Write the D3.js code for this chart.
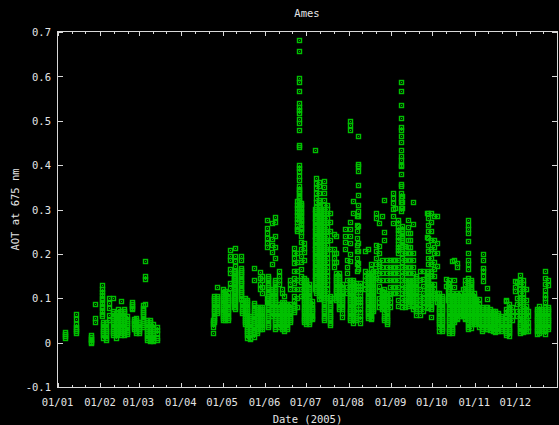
<!DOCTYPE html>
<html>
<head>
<meta charset="utf-8">
<script src="https://cdn.jsdelivr.net/npm/d3@7"></script>
<style>
  html, body { margin: 0; padding: 0; background: #000; }
  svg { display: block; }
</style>
</head>
<body>
<svg id="chart" width="559" height="425"></svg>
<script>
// Labels
const chartTitle = "Ames";
const xTitle = "Date (2005)";
const yTitle = "AOT at 675 nm";

// Axis ticks
const monthTickDates = ["01-01","02-01","03-01","04-01","05-01","06-01","07-01","08-01","09-01","10-01","11-01","12-01"];
const monthTickLabels = ["01/01","01/02","01/03","01/04","01/05","01/06","01/07","01/08","01/09","01/10","01/11","01/12"];
const minorTickDays = [11, 21];
const yTickValues = [-0.1, 0, 0.1, 0.2, 0.3, 0.4, 0.5, 0.6, 0.7];

// Observation days (MM-DD, 2005) and the AOT values measured on each day
const obsDays = [
  "01-06","01-14","01-25","01-28","02-02","02-03","02-05","02-07","02-10","02-12",
  "02-14","02-16","02-18","02-20","02-24","02-25","02-27","03-01","03-04","03-05",
  "03-07","03-09","03-11","03-14",
  "04-24","04-25","04-27","05-01","05-03","05-05","05-06","05-09","05-10","05-14",
  "05-15","05-17","05-19","05-21","05-24","05-26","05-28","05-30","06-02","06-03",
  "06-06","06-08","06-11","06-13","06-15","06-17","06-19","06-22","06-24","06-26",
  "06-27","06-29","07-01","07-03","07-05","07-07","07-08","07-10","07-12","07-14",
  "07-16","07-18","07-21","07-23","07-25","07-27","07-29","07-31","08-02","08-04",
  "08-06","08-07","08-08","08-09","08-13","08-15","08-17","08-19","08-21","08-23",
  "08-25","08-27","08-29","08-31","09-02","09-04","09-06","09-08","09-09","09-11",
  "09-13","09-15","09-17","09-19","09-22","09-24","09-27","09-28","09-30","10-02",
  "10-04","10-06","10-08","10-11","10-12","10-13","10-15","10-17","10-19","10-21",
  "10-23","10-25","10-27","10-29","10-31","11-02","11-04","11-06","11-07","11-09",
  "11-10","11-12","11-14","11-16","11-18","11-20","11-24","11-26","11-28","11-30",
  "12-02","12-04","12-06","12-08","12-10","12-16","12-18","12-20","12-22","12-24"
];

const obsAOT = [
  // January - March
  [0.022, 0.018, 0.014, 0.010],
  [0.063, 0.053, 0.040, 0.035, 0.030, 0.025, 0.020],
  [0.016, 0.012, 0.008, 0.004, 0.000, -0.003],
  [0.087, 0.055, 0.045],
  [0.128, 0.120, 0.112, 0.106, 0.100, 0.094, 0.088, 0.082, 0.076, 0.070, 0.064, 0.058],
  [0.045, 0.040, 0.035, 0.030, 0.025, 0.020, 0.015, 0.010],
  [0.045, 0.040, 0.035, 0.030, 0.025, 0.020, 0.015, 0.010, 0.005],
  [0.100, 0.089, 0.077, 0.062, 0.050],
  [0.100, 0.070, 0.065, 0.060, 0.055, 0.050, 0.045, 0.040, 0.035, 0.030, 0.025, 0.020, 0.015],
  [0.065, 0.060, 0.055, 0.050, 0.045, 0.040, 0.035, 0.030, 0.025, 0.020, 0.015, 0.010],
  [0.075, 0.068, 0.062, 0.056, 0.050, 0.045, 0.040, 0.035, 0.030, 0.025, 0.020],
  [0.092, 0.070, 0.065, 0.060, 0.055, 0.050, 0.045, 0.040, 0.035, 0.030, 0.025, 0.020, 0.015],
  [0.075, 0.070, 0.065, 0.060, 0.055, 0.050, 0.045, 0.040, 0.035, 0.030, 0.025, 0.020, 0.015],
  [0.058, 0.053, 0.048, 0.043, 0.038, 0.033, 0.028, 0.023, 0.018],
  [0.090, 0.086, 0.082, 0.078, 0.074],
  [0.053, 0.048, 0.044, 0.040, 0.035, 0.030],
  [0.055, 0.050, 0.045, 0.040, 0.035, 0.030, 0.025, 0.020],
  [0.045, 0.040, 0.035, 0.030, 0.025, 0.020],
  [0.083, 0.078, 0.073, 0.068, 0.063, 0.058, 0.053, 0.048, 0.043, 0.038, 0.033],
  [0.183, 0.148, 0.142, 0.087],
  [0.050, 0.045, 0.040, 0.035, 0.030, 0.025, 0.020, 0.015, 0.010, 0.005],
  [0.050, 0.045, 0.040, 0.035, 0.030, 0.025, 0.020, 0.015, 0.010, 0.005, 0.002],
  [0.040, 0.035, 0.030, 0.025, 0.020, 0.015, 0.010, 0.005, 0.002],
  [0.034, 0.027, 0.020, 0.010, 0.004],
  // late April - May
  [0.050, 0.045, 0.040, 0.035, 0.021],
  [0.105, 0.100, 0.095, 0.090, 0.085, 0.080, 0.075, 0.070, 0.065, 0.060, 0.055, 0.050, 0.045],
  [0.125, 0.105, 0.100, 0.095, 0.090, 0.085, 0.080, 0.075, 0.070, 0.065],
  [0.119, 0.114, 0.109, 0.104, 0.099, 0.094, 0.089, 0.084, 0.079, 0.074, 0.069, 0.064, 0.059, 0.054, 0.049],
  [0.115, 0.110, 0.105, 0.100, 0.095, 0.090, 0.085, 0.080, 0.075, 0.070, 0.065, 0.060, 0.055, 0.050],
  [0.110, 0.105, 0.100, 0.095, 0.090, 0.085, 0.080, 0.075, 0.070, 0.065, 0.060, 0.055, 0.050],
  [0.207, 0.195, 0.184, 0.165, 0.155, 0.134, 0.122],
  [0.160, 0.155, 0.150, 0.145, 0.140, 0.135, 0.130, 0.125, 0.120, 0.115, 0.110, 0.105, 0.100, 0.095, 0.090, 0.085, 0.080],
  [0.213, 0.195, 0.182, 0.171, 0.160, 0.155, 0.150, 0.145, 0.140, 0.135, 0.130, 0.125, 0.120, 0.115, 0.110, 0.105, 0.100, 0.095, 0.090, 0.085, 0.080, 0.074],
  [0.195, 0.184, 0.168, 0.163, 0.158, 0.153, 0.148, 0.143, 0.138, 0.133, 0.128, 0.123, 0.118, 0.113, 0.108, 0.103, 0.098],
  [0.090, 0.085, 0.080, 0.075, 0.070, 0.065],
  [0.100, 0.095, 0.090, 0.085, 0.080, 0.075, 0.070, 0.065, 0.060, 0.055, 0.050, 0.045, 0.040],
  [0.095, 0.090, 0.085, 0.080, 0.075, 0.070, 0.065, 0.060, 0.055, 0.050, 0.045, 0.040, 0.035, 0.030, 0.025, 0.020, 0.015, 0.010],
  [0.060, 0.055, 0.050, 0.045, 0.040, 0.035, 0.030, 0.025, 0.020, 0.015, 0.010, 0.006],
  [0.168, 0.141, 0.088, 0.083, 0.078, 0.073, 0.068, 0.063, 0.058, 0.053, 0.048, 0.043, 0.038, 0.033, 0.028, 0.023, 0.018, 0.012],
  [0.080, 0.075, 0.070, 0.065, 0.060, 0.055, 0.050, 0.045, 0.040, 0.035, 0.030, 0.025, 0.020],
  [0.157, 0.145, 0.130, 0.120, 0.080, 0.075, 0.070, 0.065, 0.060, 0.055, 0.050, 0.045, 0.040, 0.035, 0.030],
  [0.150, 0.140, 0.125, 0.110, 0.080, 0.075, 0.070, 0.065, 0.060, 0.055, 0.050, 0.045, 0.040, 0.035, 0.030],
  [0.275, 0.258, 0.246, 0.235, 0.224, 0.215, 0.100, 0.090],
  [0.149, 0.144, 0.139, 0.134, 0.129, 0.124, 0.119, 0.114, 0.109, 0.104, 0.099, 0.094, 0.089, 0.084, 0.079, 0.074, 0.069, 0.064, 0.059, 0.054, 0.049, 0.044, 0.039, 0.034],
  // June
  [0.269, 0.233, 0.219, 0.204, 0.175, 0.120, 0.115, 0.110, 0.105, 0.100, 0.095, 0.090, 0.085, 0.080, 0.075, 0.070, 0.065, 0.060],
  [0.282, 0.270, 0.240, 0.215, 0.190, 0.140, 0.135, 0.130, 0.125, 0.120, 0.115, 0.110, 0.105, 0.100, 0.095, 0.090, 0.085, 0.080, 0.075, 0.070, 0.065, 0.060, 0.055, 0.050, 0.045, 0.040, 0.035, 0.030],
  [0.160, 0.150, 0.140, 0.130, 0.085, 0.080, 0.075, 0.070, 0.065, 0.060, 0.055, 0.050, 0.045, 0.040, 0.035],
  [0.120, 0.110, 0.090, 0.085, 0.080, 0.075, 0.070, 0.065, 0.060, 0.055, 0.050, 0.045, 0.040, 0.035, 0.030],
  [0.105, 0.090, 0.085, 0.080, 0.075, 0.070, 0.065, 0.060, 0.055, 0.050, 0.045, 0.040, 0.035, 0.030, 0.025],
  [0.085, 0.080, 0.075, 0.070, 0.065, 0.060, 0.055, 0.050, 0.045, 0.040, 0.035, 0.030],
  [0.140, 0.130, 0.120, 0.085, 0.080, 0.075, 0.070, 0.065, 0.060, 0.055, 0.050, 0.045],
  [0.211, 0.201, 0.190, 0.179, 0.161, 0.145, 0.134, 0.120, 0.104, 0.092, 0.087, 0.082, 0.077, 0.072, 0.067],
  [0.318, 0.310, 0.302, 0.294, 0.286, 0.278, 0.270, 0.262, 0.255, 0.250, 0.200, 0.180, 0.160, 0.140, 0.120, 0.100, 0.080],
  [0.680, 0.655, 0.595, 0.586, 0.565, 0.538, 0.530, 0.524, 0.517, 0.502, 0.494, 0.479, 0.445, 0.440, 0.400, 0.393, 0.385, 0.375, 0.366, 0.351, 0.345, 0.340, 0.335, 0.330, 0.325, 0.320, 0.315, 0.310, 0.305, 0.300, 0.295, 0.290, 0.285, 0.280],
  [0.314, 0.308, 0.302, 0.296, 0.290, 0.284, 0.278, 0.272, 0.266, 0.260, 0.254, 0.248, 0.240, 0.225, 0.210, 0.195, 0.180, 0.165, 0.150, 0.135, 0.120, 0.105],
  [0.224, 0.213, 0.203, 0.185, 0.145, 0.140, 0.135, 0.130, 0.125, 0.120, 0.115, 0.110, 0.105, 0.100, 0.095, 0.090, 0.085, 0.080, 0.075, 0.070, 0.065, 0.060, 0.055, 0.050, 0.045],
  // July
  [0.140, 0.135, 0.130, 0.125, 0.120, 0.115, 0.110, 0.105, 0.100, 0.095, 0.090, 0.085, 0.080, 0.075, 0.070, 0.065, 0.060, 0.055, 0.050, 0.045, 0.040],
  [0.130, 0.125, 0.120, 0.115, 0.110, 0.105, 0.100, 0.095, 0.090, 0.085, 0.080, 0.075, 0.070, 0.065, 0.060, 0.055, 0.050, 0.045, 0.040],
  [0.092, 0.085, 0.080, 0.075, 0.070, 0.065, 0.060, 0.055, 0.051],
  [0.434, 0.300, 0.290, 0.280, 0.270, 0.260, 0.250, 0.240, 0.230, 0.220, 0.210, 0.200, 0.190, 0.180, 0.170, 0.160, 0.150, 0.140, 0.130, 0.120],
  [0.370, 0.359, 0.348, 0.336, 0.325, 0.315, 0.305, 0.295, 0.285, 0.275, 0.265, 0.255, 0.245, 0.235, 0.225, 0.215, 0.205, 0.195, 0.185, 0.175, 0.165, 0.155, 0.145, 0.135, 0.125, 0.115, 0.110],
  [0.360, 0.351, 0.337, 0.321, 0.315, 0.310, 0.305, 0.300, 0.295, 0.290, 0.285, 0.280, 0.275, 0.270, 0.265, 0.260, 0.255, 0.250, 0.245, 0.240, 0.235, 0.230, 0.225, 0.220, 0.215, 0.210, 0.205, 0.200, 0.195, 0.190, 0.185, 0.180, 0.175, 0.170, 0.165, 0.160, 0.155, 0.150, 0.145, 0.140, 0.135, 0.130, 0.125, 0.120, 0.115, 0.110, 0.105, 0.098],
  [0.300, 0.295, 0.290, 0.285, 0.280, 0.275, 0.270, 0.265, 0.260, 0.255, 0.250, 0.245, 0.240, 0.235, 0.230, 0.225, 0.220, 0.215, 0.210, 0.205, 0.200, 0.195, 0.190, 0.185, 0.180, 0.175, 0.170, 0.165, 0.160, 0.155, 0.150, 0.145, 0.140, 0.135, 0.130, 0.125, 0.120, 0.115, 0.110, 0.105, 0.100],
  [0.363, 0.350, 0.335, 0.320, 0.310, 0.300, 0.290, 0.280, 0.270, 0.260, 0.250, 0.240, 0.230, 0.220, 0.210, 0.200, 0.190, 0.180, 0.170, 0.160, 0.150, 0.140, 0.130, 0.120, 0.110, 0.100, 0.095, 0.090, 0.085, 0.080, 0.075, 0.070, 0.065, 0.060, 0.055, 0.050],
  [0.310, 0.300, 0.290, 0.280, 0.270, 0.260, 0.250, 0.240, 0.230, 0.220, 0.210, 0.200, 0.190, 0.180, 0.170, 0.160, 0.150, 0.140, 0.130, 0.120, 0.110, 0.100],
  [0.291, 0.270, 0.250, 0.230, 0.210, 0.104, 0.099, 0.094, 0.089, 0.084, 0.079, 0.074, 0.069, 0.064, 0.059, 0.054, 0.049, 0.044, 0.038],
  [0.243, 0.209, 0.200, 0.190, 0.180, 0.170, 0.100],
  [0.239, 0.200, 0.180, 0.156, 0.150, 0.145, 0.140, 0.135, 0.130, 0.125, 0.120, 0.115, 0.110, 0.105, 0.100, 0.095],
  [0.156, 0.150, 0.145, 0.140, 0.135, 0.130, 0.125, 0.120, 0.115, 0.110, 0.105, 0.100, 0.095, 0.090, 0.085, 0.080, 0.075],
  [0.130, 0.125, 0.120, 0.115, 0.110, 0.105, 0.100, 0.095, 0.090, 0.085, 0.080, 0.074, 0.065, 0.057],
  [0.254, 0.240, 0.225, 0.210],
  [0.186, 0.170, 0.155, 0.140, 0.125, 0.111],
  // August
  [0.498, 0.490, 0.479, 0.270, 0.254, 0.240, 0.224, 0.198, 0.182, 0.141, 0.135, 0.130, 0.125, 0.120, 0.115, 0.110, 0.105, 0.100, 0.095, 0.090, 0.085, 0.080, 0.075, 0.070, 0.065, 0.060, 0.055, 0.050],
  [0.318, 0.291, 0.140, 0.135, 0.130, 0.125, 0.120, 0.115, 0.110, 0.105, 0.100, 0.095, 0.090, 0.085, 0.080, 0.075, 0.070, 0.065, 0.060, 0.055, 0.050, 0.044],
  [0.134, 0.127, 0.120, 0.113, 0.105, 0.098, 0.090, 0.083, 0.075, 0.068, 0.060, 0.055, 0.050],
  [0.284, 0.265, 0.250, 0.235, 0.220, 0.205, 0.190, 0.175, 0.160],
  [0.465, 0.402, 0.396, 0.385, 0.355, 0.331, 0.310, 0.295, 0.284, 0.261, 0.224, 0.205, 0.179, 0.164],
  [0.134, 0.127, 0.120, 0.113, 0.105, 0.098, 0.090, 0.083, 0.075, 0.068, 0.060, 0.052, 0.044],
  [0.205, 0.160, 0.150, 0.140, 0.130, 0.120],
  [0.209, 0.156, 0.150, 0.145, 0.140, 0.135, 0.130, 0.125, 0.120, 0.115, 0.110, 0.105, 0.100, 0.095, 0.090, 0.085, 0.080, 0.075, 0.070, 0.065, 0.060, 0.055],
  [0.175, 0.165, 0.155, 0.150, 0.145, 0.140, 0.135, 0.130, 0.125, 0.120, 0.115, 0.110, 0.105, 0.100, 0.095, 0.090, 0.085, 0.080, 0.075, 0.070, 0.065, 0.060, 0.055, 0.051],
  [0.160, 0.150, 0.145, 0.140, 0.135, 0.130, 0.125, 0.120, 0.115, 0.110, 0.105, 0.100, 0.095, 0.090, 0.085, 0.080, 0.075, 0.070],
  [0.291, 0.280, 0.220, 0.205, 0.190, 0.175, 0.160, 0.145],
  [0.269, 0.216, 0.200, 0.180, 0.171, 0.155, 0.140, 0.126, 0.115, 0.100, 0.090, 0.080],
  [0.284, 0.186, 0.170, 0.155, 0.140, 0.115, 0.110, 0.105, 0.100, 0.095, 0.090, 0.085, 0.080, 0.074],
  [0.321, 0.249, 0.230, 0.119, 0.112, 0.105, 0.098, 0.090, 0.083, 0.075, 0.068, 0.060, 0.055, 0.050],
  [0.186, 0.170, 0.155, 0.140, 0.111, 0.105, 0.100, 0.095, 0.090, 0.085, 0.080, 0.075, 0.070, 0.065, 0.060, 0.055, 0.050, 0.045, 0.040],
  [0.186, 0.170, 0.155, 0.140, 0.125, 0.111, 0.100, 0.090, 0.080],
  // September
  [0.336, 0.325, 0.314, 0.300, 0.285, 0.269, 0.186, 0.170, 0.155, 0.140, 0.125, 0.111],
  [0.303, 0.186, 0.170, 0.155, 0.140, 0.125, 0.111],
  [0.276, 0.268, 0.260, 0.252, 0.245, 0.237, 0.230, 0.222, 0.215, 0.207, 0.200, 0.185, 0.170, 0.155, 0.140, 0.125, 0.110, 0.095, 0.081],
  [0.586, 0.565, 0.534, 0.505, 0.485, 0.479, 0.465, 0.450, 0.434, 0.419, 0.410, 0.400, 0.396, 0.380, 0.357, 0.351, 0.336, 0.325, 0.315, 0.303, 0.295],
  [0.329, 0.316, 0.303, 0.261, 0.255, 0.250, 0.245, 0.240, 0.235, 0.230, 0.225, 0.220, 0.215, 0.209, 0.200, 0.190, 0.180, 0.170, 0.160, 0.150, 0.140, 0.130, 0.120, 0.110, 0.100, 0.090, 0.080],
  [0.216, 0.200, 0.185, 0.170, 0.155, 0.140, 0.125, 0.110, 0.095, 0.080],
  [0.276, 0.260, 0.246, 0.230, 0.215, 0.200, 0.185, 0.170, 0.155, 0.141, 0.135, 0.130, 0.125, 0.120, 0.115, 0.110, 0.105, 0.100, 0.095, 0.090, 0.085, 0.081],
  [0.246, 0.230, 0.215, 0.200, 0.185, 0.170, 0.155, 0.141, 0.135, 0.130, 0.125, 0.120, 0.115, 0.110, 0.105, 0.100, 0.095, 0.090],
  [0.316, 0.267, 0.200, 0.185, 0.170, 0.155, 0.141, 0.135, 0.130, 0.125, 0.120, 0.115, 0.110, 0.105, 0.100, 0.095, 0.090, 0.085, 0.081, 0.074],
  [0.150, 0.145, 0.140, 0.135, 0.130, 0.125, 0.120, 0.115, 0.110, 0.105, 0.100, 0.095, 0.090, 0.085, 0.080, 0.075, 0.070, 0.062],
  [0.160, 0.140, 0.120, 0.105, 0.095, 0.085, 0.075, 0.062],
  [0.160, 0.143, 0.126, 0.110, 0.100, 0.090, 0.080, 0.070],
  [0.291, 0.238, 0.156, 0.150, 0.145, 0.140, 0.135, 0.130, 0.125, 0.120, 0.115, 0.110, 0.105, 0.100, 0.095, 0.090, 0.085, 0.080],
  [0.290, 0.280, 0.265, 0.250, 0.235, 0.220, 0.205, 0.190, 0.175, 0.160, 0.149, 0.140, 0.135, 0.130, 0.125, 0.120, 0.115, 0.110, 0.105, 0.100, 0.095, 0.090, 0.085, 0.077],
  [0.292, 0.270, 0.250, 0.230, 0.210, 0.190, 0.175, 0.160, 0.149, 0.130, 0.125, 0.120, 0.115, 0.110, 0.105, 0.100, 0.096, 0.090, 0.085, 0.080, 0.074, 0.057],
  // October
  [0.285, 0.231, 0.215, 0.200, 0.180, 0.164, 0.150, 0.130, 0.120, 0.110, 0.100],
  [0.284, 0.224, 0.200, 0.171, 0.111, 0.100, 0.090],
  [0.110, 0.105, 0.100, 0.095, 0.090, 0.085, 0.080, 0.075, 0.070, 0.065, 0.060, 0.055, 0.050, 0.045, 0.040, 0.034, 0.025],
  [0.105, 0.100, 0.095, 0.090, 0.085, 0.080, 0.075, 0.070, 0.065, 0.060, 0.055, 0.050, 0.045, 0.040, 0.035, 0.030, 0.025],
  [0.143, 0.126],
  [0.134, 0.120, 0.110, 0.100, 0.096],
  [0.140, 0.130, 0.120, 0.111, 0.105, 0.100, 0.095, 0.090, 0.085, 0.080, 0.075, 0.070, 0.065, 0.060, 0.055, 0.050, 0.045, 0.040, 0.035, 0.030, 0.025, 0.020],
  [0.182, 0.110, 0.105, 0.100, 0.095, 0.090, 0.085, 0.080, 0.075, 0.070, 0.065, 0.060, 0.055, 0.050, 0.045, 0.040, 0.035, 0.030, 0.025, 0.020],
  [0.186, 0.141, 0.125, 0.107, 0.100, 0.095, 0.090, 0.085, 0.080, 0.075, 0.070, 0.065, 0.060, 0.055, 0.050, 0.045],
  [0.179, 0.170, 0.111, 0.105, 0.100, 0.095, 0.090, 0.085, 0.080, 0.075, 0.070, 0.065, 0.060, 0.055, 0.051],
  [0.110, 0.105, 0.100, 0.095, 0.090, 0.085, 0.080, 0.075, 0.070, 0.065, 0.060],
  [0.119, 0.105, 0.100, 0.095, 0.090, 0.085, 0.080, 0.075, 0.070, 0.065, 0.058],
  [0.141, 0.130, 0.120, 0.115, 0.110, 0.105, 0.100, 0.095, 0.090, 0.085, 0.080, 0.075, 0.070, 0.065, 0.060, 0.055, 0.051],
  [0.276, 0.265, 0.254, 0.246, 0.229, 0.201, 0.186, 0.175, 0.164, 0.145, 0.134, 0.125, 0.120, 0.115, 0.110, 0.105, 0.100, 0.095, 0.090, 0.085, 0.080, 0.075, 0.070, 0.065, 0.060, 0.055, 0.050, 0.045, 0.040, 0.035, 0.030],
  [0.140, 0.135, 0.130, 0.125, 0.120, 0.115, 0.110, 0.105, 0.100, 0.095, 0.090, 0.085, 0.080, 0.075, 0.070, 0.065, 0.060, 0.055, 0.050, 0.045, 0.040, 0.032],
  [0.110, 0.105, 0.100, 0.095, 0.090, 0.085, 0.080, 0.075, 0.070, 0.065, 0.060, 0.055, 0.050, 0.045, 0.040],
  // November
  [0.098, 0.092, 0.086, 0.080, 0.075, 0.070, 0.065, 0.060, 0.055, 0.050, 0.045, 0.040],
  [0.098, 0.085, 0.080, 0.075, 0.070, 0.065, 0.060, 0.055, 0.050, 0.045, 0.040, 0.035],
  [0.080, 0.075, 0.070, 0.065, 0.060, 0.055, 0.050, 0.045, 0.040, 0.035, 0.030, 0.025],
  [0.198, 0.186, 0.168, 0.160, 0.149, 0.137],
  [0.080, 0.075, 0.070, 0.065, 0.060, 0.055, 0.050, 0.045, 0.040, 0.035, 0.030],
  [0.122, 0.098, 0.080, 0.075, 0.070, 0.065, 0.060, 0.055, 0.050, 0.045, 0.040, 0.035, 0.030],
  [0.075, 0.070, 0.065, 0.060, 0.055, 0.050, 0.045, 0.040, 0.035, 0.028],
  [0.070, 0.065, 0.060, 0.055, 0.050, 0.045, 0.040, 0.035, 0.030, 0.025],
  [0.070, 0.065, 0.060, 0.055, 0.050, 0.045, 0.040, 0.035, 0.030, 0.022],
  [0.066, 0.061, 0.056, 0.051, 0.046, 0.041, 0.036, 0.031, 0.026],
  [0.060, 0.055, 0.050, 0.045, 0.040, 0.035, 0.030, 0.025],
  [0.096, 0.093, 0.074, 0.068, 0.062, 0.056, 0.050, 0.045, 0.040, 0.035, 0.030, 0.025, 0.020, 0.015],
  [0.085, 0.080, 0.075, 0.070, 0.065, 0.060, 0.055, 0.050, 0.045, 0.040, 0.035, 0.030, 0.025, 0.020, 0.014],
  [0.080, 0.070, 0.060, 0.050],
  [0.137, 0.125, 0.115],
  // December
  [0.136, 0.100, 0.085, 0.070, 0.058],
  [0.152, 0.141, 0.130, 0.120, 0.110, 0.100, 0.090, 0.080, 0.070, 0.060, 0.051, 0.046, 0.041, 0.036, 0.031, 0.026, 0.021],
  [0.140, 0.130, 0.120, 0.110, 0.100, 0.090, 0.081, 0.070, 0.060, 0.050, 0.045, 0.040, 0.035, 0.030, 0.025, 0.022],
  [0.119, 0.096, 0.081, 0.074, 0.065, 0.055, 0.050, 0.045, 0.040, 0.035, 0.030, 0.025],
  [0.070, 0.060, 0.046, 0.035, 0.025],
  [0.075, 0.070, 0.065, 0.060, 0.055, 0.050, 0.045, 0.040, 0.035, 0.030, 0.025, 0.018],
  [0.081, 0.075, 0.070, 0.065, 0.060, 0.055, 0.050, 0.045, 0.040, 0.035, 0.030, 0.025, 0.020],
  [0.075, 0.070, 0.065, 0.060, 0.055, 0.050, 0.045, 0.040, 0.035, 0.030, 0.025],
  [0.160, 0.145, 0.130, 0.118, 0.107, 0.100, 0.090, 0.080, 0.074, 0.065, 0.060, 0.055, 0.050, 0.045, 0.040, 0.035, 0.030, 0.025, 0.018],
  [0.141, 0.128, 0.080, 0.075, 0.070, 0.065, 0.060, 0.055, 0.050, 0.045, 0.040, 0.035, 0.030]
];

// ---- drawing ----
const svg = d3.select("#chart");
const W = 559, H = 425;
const plot = { left: 58, right: 557, top: 32, bottom: 387 };
const textColor = "#e4e4e4";
const axisColor = "#d8d8d8";
const markColor = "#00c000";
const font = "'DejaVu Sans Mono', 'Liberation Mono', monospace";

svg.append("rect").attr("width", W).attr("height", H).attr("fill", "#000");

const toDate = s => {
  const [m, d] = s.split("-").map(Number);
  return new Date(Date.UTC(2005, m - 1, d));
};

const x = d3.scaleUtc()
  .domain([new Date(Date.UTC(2005, 0, 1)), new Date(Date.UTC(2005, 11, 31))])
  .range([plot.left, plot.right]);
const y = d3.scaleLinear().domain([-0.1, 0.7]).range([plot.bottom, plot.top]);

const majorDates = monthTickDates.map(toDate);
const minorDates = [];
for (let m = 0; m < 12; m++) minorTickDays.forEach(d => minorDates.push(new Date(Date.UTC(2005, m, d))));

const fmtY = v => String(Math.round(v * 10) / 10);

function styleAxis(g) {
  g.select(".domain").remove();
  g.selectAll("line").attr("stroke", axisColor).attr("stroke-width", 1).attr("shape-rendering", "crispEdges");
  g.selectAll("text").attr("fill", textColor).attr("font-family", font).attr("font-size", "10.5px");
}

// bottom axis: month ticks + labels, minor ticks
svg.append("g").attr("transform", `translate(0,${plot.bottom})`)
  .call(d3.axisBottom(x).tickValues(majorDates).tickSize(-4).tickFormat((d, i) => monthTickLabels[i]))
  .call(styleAxis)
  .call(g => g.selectAll("text").attr("y", 18.5).attr("dy", 0).attr("dx", -1));
svg.append("g").attr("transform", `translate(0,${plot.bottom})`)
  .call(d3.axisBottom(x).tickValues(minorDates).tickSize(-2).tickFormat(""))
  .call(styleAxis);

// top axis (mirror ticks)
svg.append("g").attr("transform", `translate(0,${plot.top})`)
  .call(d3.axisTop(x).tickValues(majorDates).tickSize(-4).tickFormat(""))
  .call(styleAxis);
svg.append("g").attr("transform", `translate(0,${plot.top})`)
  .call(d3.axisTop(x).tickValues(minorDates).tickSize(-2).tickFormat(""))
  .call(styleAxis);

// left axis with labels, right axis mirror ticks
svg.append("g").attr("transform", `translate(${plot.left},0)`)
  .call(d3.axisLeft(y).tickValues(yTickValues).tickSize(-5).tickPadding(7).tickFormat(fmtY))
  .call(styleAxis)
  .call(g => g.selectAll("text").attr("dy", "0.35em"));
svg.append("g").attr("transform", `translate(${plot.right},0)`)
  .call(d3.axisRight(y).tickValues(yTickValues).tickSize(-5).tickFormat(""))
  .call(styleAxis);

// plot border
svg.append("rect")
  .attr("x", plot.left - 0.5).attr("y", plot.top - 0.5)
  .attr("width", plot.right - plot.left + 1).attr("height", plot.bottom - plot.top + 1)
  .attr("fill", "none").attr("stroke", axisColor).attr("stroke-width", 1)
  .attr("shape-rendering", "crispEdges");

// observations: open squares with a centre dot
const points = [];
obsDays.forEach((d, i) => obsAOT[i].forEach(v => points.push({ date: toDate(d), v })));

const marks = svg.append("g").attr("class", "points");
points.forEach(p => {
  const cx = Math.floor(x(p.date) + 0.68) + 0.5;
  const cy = Math.floor(y(p.v)) + 0.5;
  marks.append("rect")
    .attr("x", cx - 2).attr("y", cy - 2).attr("width", 4).attr("height", 4)
    .attr("fill", "none").attr("stroke", markColor).attr("stroke-width", 1.4);
  marks.append("rect")
    .attr("x", cx - 0.5).attr("y", cy - 0.5).attr("width", 1).attr("height", 1)
    .attr("fill", markColor);
});

// titles
svg.append("text").attr("x", 307).attr("y", 17).attr("text-anchor", "middle")
  .attr("fill", textColor).attr("font-family", font).attr("font-size", "10.5px").text(chartTitle);
svg.append("text").attr("x", 307.5).attr("y", 422.5).attr("text-anchor", "middle")
  .attr("fill", textColor).attr("font-family", font).attr("font-size", "10.5px").text(xTitle);
svg.append("text").attr("transform", "translate(19,209.5) rotate(-90)").attr("text-anchor", "middle")
  .attr("fill", textColor).attr("font-family", font).attr("font-size", "10.5px").text(yTitle);
</script>
</body>
</html>
